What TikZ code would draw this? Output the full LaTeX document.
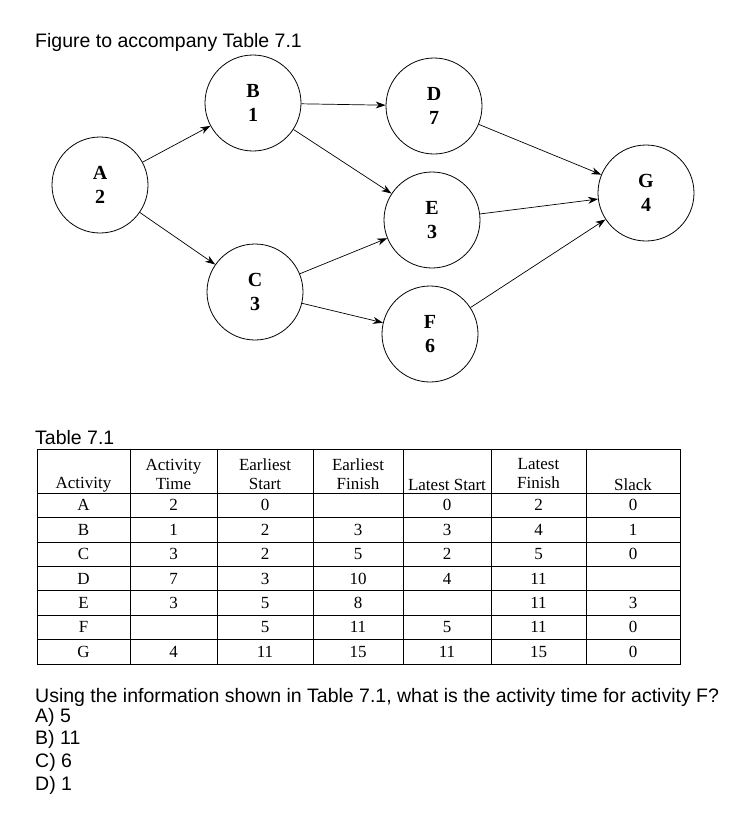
\documentclass[tikz,border=0pt]{standalone}
\usepackage{fontspec}
\setmainfont{Liberation Serif}
\newfontfamily\sansf{Liberation Sans}
\usetikzlibrary{arrows.meta}
\begin{document}
\begin{tikzpicture}[x=1pt,y=-1pt,
  act/.style={circle,draw,line width=0.8pt,minimum size=96pt,inner sep=0pt,font=\bfseries\fontsize{20}{24}\selectfont,align=center},
  arr/.style={-{Stealth[length=10pt,width=7pt]},line width=0.7pt},
  lbl/.style={font=\sansf\fontsize{19.5}{22}\selectfont,anchor=west,inner sep=0pt},
  cell/.style={font=\fontsize{17}{19}\selectfont,inner sep=0pt,align=center}]
\useasboundingbox (0,0) rectangle (752,822);
\node[lbl] (title) at (35,42) {Figure to accompany Table 7.1};
\node[act] (A) at (100,185) {A\\2};
\node[act] (B) at (253,103) {B\\1};
\node[act] (C) at (255,292) {C\\3};
\node[act] (D) at (434,106) {D\\7};
\node[act] (E) at (432,220) {E\\3};
\node[act] (F) at (430,334) {F\\6};
\node[act] (G) at (646,193) {G\\4};
\draw[arr] (A) -- (B);
\draw[arr] (A) -- (C);
\draw[arr] (B) -- (D);
\draw[arr] (B) -- (E);
\draw[arr] (C) -- (E);
\draw[arr] (C) -- (F);
\draw[arr] (D) -- (G);
\draw[arr] (E) -- (G);
\draw[arr] (F) -- (G);
\node[lbl] (ttl) at (35,438) {Table 7.1};
% table
\draw[line width=0.8pt] (37,449) rectangle (680,664);
\foreach \x in {130,217,313,403,491,586} \draw[line width=0.6pt] (\x,449) -- (\x,664);
\foreach \i in {0,...,6} \draw[line width=0.6pt] (37,{493+\i*24.43}) -- (680,{493+\i*24.43});
\node[cell] (h1) at (83.5,485) {Activity};
\node[cell] (h2) at (173.5,474) {Activity\\Time};
\node[cell] (h3) at (265,474) {Earliest\\Start};
\node[cell] (h4) at (358,474) {Earliest\\Finish};
\node[cell] (h5) at (447,485) {Latest Start};
\node[cell] (h6) at (538.5,474) {Latest\\Finish};
\node[cell] (h7) at (633,485) {Slack};
\foreach \r/\a/\b/\c/\d/\e/\f/\g [count=\i from 0] in {A/2/0//0/2/0, B/1/2/3/3/4/1, C/3/2/5/2/5/0, D/7/3/10/4/11/, E/3/5/8//11/3, F//5/11/5/11/0, G/4/11/15/11/15/0}{
  \pgfmathsetmacro\yy{505.2+\i*24.43}
  \node[cell] at (83.5,\yy) {\r};
  \node[cell] at (173.5,\yy) {\a};
  \node[cell] at (265,\yy) {\b};
  \node[cell] at (358,\yy) {\c};
  \node[cell] at (447,\yy) {\d};
  \node[cell] at (538.5,\yy) {\e};
  \node[cell] at (633,\yy) {\f};
}
\node[lbl] (q) at (35,697) {Using the information shown in Table 7.1, what is the activity time for activity F?};
\node[lbl] (oa) at (35,717) {A) 5};
\node[lbl] (ob) at (35,739) {B) 11};
\node[lbl] (oc) at (35,762) {C) 6};
\node[lbl] (od) at (35,785) {D) 1};
\end{tikzpicture}
\end{document}
